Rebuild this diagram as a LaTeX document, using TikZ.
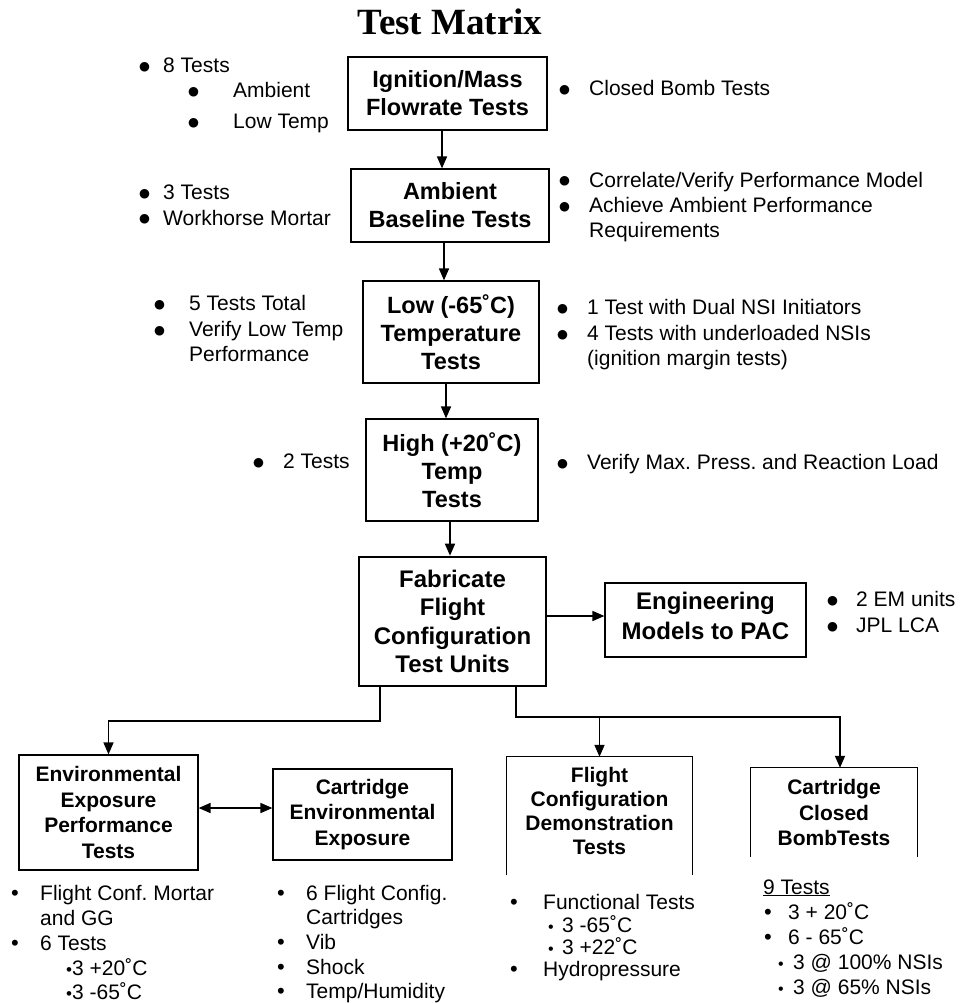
\documentclass[tikz,border=0pt]{standalone}
\usepackage{fontspec}
\setmainfont{Liberation Sans}
\newfontfamily\titlefont{Liberation Serif}
\newfontfamily\dvfont{DejaVu Sans}
\usetikzlibrary{arrows.meta}
\frenchspacing
\newcommand\bul[2]{\makebox[#1pt][l]{\fontsize{#2}{#2}\selectfont •}}
\newcommand\Bul[1]{\makebox[#1pt][l]{\raisebox{2pt}{\dvfont\fontsize{12.5}{12.5}\selectfont ●}}}
\tikzset{
  box/.style={draw, line width=1.2pt, align=center, inner sep=0pt,
    font=\fontsize{23.5}{28}\selectfont\bfseries},
  bbox/.style={box, font=\fontsize{21}{25.5}\selectfont\bfseries},
  obox/.style={align=center, inner sep=0pt, font=\fontsize{21}{25.5}\selectfont\bfseries},
  tx/.style={anchor=base west, inner sep=0pt, font=\fontsize{21}{25}\selectfont},
  arr/.style={line width=1.6pt, -{Triangle[length=12pt,width=10pt]}},
  barr/.style={line width=1.6pt, {Triangle[length=12pt,width=10pt]}-{Triangle[length=12pt,width=10pt]}},
}
\begin{document}
\begin{tikzpicture}[x=1pt,y=-1pt]
\useasboundingbox (0,0) rectangle (968,1003);
\fill[white] (0,0) rectangle (968,1003);

\node[anchor=base, inner sep=0pt, font=\titlefont\bfseries\fontsize{37}{40}\selectfont] (title) at (450,35) {Test Matrix};

% boxes
\node[box, minimum width=199pt, minimum height=73pt] (b1) at (447.5,93.5) {Ignition/Mass\\Flowrate Tests};
\node[box, minimum width=198pt, minimum height=73pt] (b2) at (450,205.5) {Ambient\\Baseline Tests};
\node[box, minimum width=176pt, minimum height=102pt] (b3) at (451,332) {Low (-65˚C)\\Temperature\\Tests};
\node[box, minimum width=172pt, minimum height=102pt] (b4) at (452,470) {High (+20˚C)\\Temp\\Tests};
\node[box, line width=2.6pt, minimum width=187pt, minimum height=129pt,
  font=\fontsize{24}{28.5}\selectfont\bfseries] (fab) at (452.5,621.5) {Fabricate\\Flight\\Configuration\\Test Units};
\node[box, minimum width=201pt, minimum height=74pt] (eng) at (705.5,620) {};
\node[obox, font=\fontsize{24}{30}\selectfont\bfseries] (engt) at (705.5,616) {Engineering\\Models to PAC};
\node[bbox, minimum width=179pt, minimum height=115pt] (env) at (108.5,812.5) {Environmental\\Exposure\\Performance\\Tests};
\node[bbox, minimum width=179pt, minimum height=91pt] (cenv) at (362.5,814.5) {Cartridge\\Environmental\\Exposure};
\node[obox, minimum width=185pt, minimum height=118pt] (fcd) at (599.5,816) {};
\node[obox, font=\fontsize{21}{24}\selectfont\bfseries] (fcdt) at (599.5,810.5) {Flight\\Configuration\\Demonstration\\Tests};
\node[obox, minimum width=166pt, minimum height=89pt] (ccb) at (834,812.5) {Cartridge\\Closed\\BombTests};
\draw[line width=1.3pt] (fcd.south west) -- (fcd.north west) -- (fcd.north east) -- (fcd.south east);
\draw[line width=1.3pt] (ccb.south west) -- (ccb.north west) -- (ccb.north east) -- (ccb.south east);

% connectors
\draw[arr] ([xshift=-5.5pt]b1.south) -- ([xshift=-5.5pt]b1.south |- b2.north);
\draw[arr] ([xshift=-6pt]b2.south) -- ([xshift=-6pt]b2.south |- b3.north);
\draw[arr] ([xshift=-5pt]b3.south) -- ([xshift=-5pt]b3.south |- b4.north);
\draw[arr] ([xshift=-2pt]b4.south) -- ([xshift=-2pt]b4.south |- fab.north);
\draw[arr] ([yshift=5.5pt]fab.east) -- ([yshift=5.5pt]fab.east -| eng.west);
\coordinate (jl) at (380,721);
\coordinate (jr) at (516,717);
\draw[arr] (fab.south -| jl) -- (jl) -| (env.north);
\draw[arr] (fab.south -| jr) -- (jr) -| ([xshift=6pt]ccb.north);
\draw[arr] (jr -| fcd.north) -- (fcd.north);
\draw[barr] ([yshift=4.5pt]env.east) -- ([yshift=4.5pt]env.east -| cenv.west);

% side lists
\node[tx] (t1) at (139,73) {\Bul{24}8 Tests};
\node[tx] (t2) at (188,98) {\Bul{45}Ambient};
\node[tx] (t3) at (188,129) {\Bul{45}Low Temp};
\node[tx] (t4) at (559,96) {\Bul{30}Closed Bomb Tests};
\node[tx] (t5) at (139,200) {\Bul{24}3 Tests};
\node[tx] (t6) at (139,225) {\Bul{24}Workhorse Mortar};
\node[tx] (t7) at (559,187) {\Bul{30}Correlate/Verify Performance Model};
\node[tx] (t8) at (559,212) {\Bul{30}Achieve Ambient Performance};
\node[tx] (t9) at (589,237) {Requirements};
\node[tx] (t10) at (154,310) {\Bul{35}5 Tests Total};
\node[tx] (t11) at (154,336) {\Bul{35}Verify Low Temp};
\node[tx] (t12) at (189,361) {Performance};
\node[tx] (t13) at (557,314) {\Bul{30}1 Test with Dual NSI Initiators};
\node[tx] (t14) at (557,340) {\Bul{30}4 Tests with underloaded NSIs};
\node[tx] (t15) at (587,365) {(ignition margin tests)};
\node[tx] (t16) at (253,468) {\Bul{30}2 Tests};
\node[tx] (t17) at (557,469) {\Bul{30}Verify Max. Press. and Reaction Load};
\node[tx] (t18) at (827,606) {\Bul{29}2 EM units};
\node[tx] (t19) at (827,632) {\Bul{29}JPL LCA};

% bottom lists
\node[tx] (t20) at (11,900) {\bul{29}{22}Flight Conf. Mortar};
\node[tx] (t21) at (40,925) {and GG};
\node[tx] (t22) at (11,950) {\bul{29}{22}6 Tests};
\node[tx] (t23) at (66,975) {{\fontsize{17}{17}\selectfont •}3 +20˚C};
\node[tx] (t24) at (66,999) {{\fontsize{17}{17}\selectfont •}3 -65˚C};
\node[tx] (t25) at (277,900) {\bul{29}{22}6 Flight Config.};
\node[tx] (t26) at (306,924) {Cartridges};
\node[tx] (t27) at (277,949) {\bul{29}{22}Vib};
\node[tx] (t28) at (277,974) {\bul{29}{22}Shock};
\node[tx] (t29) at (277,998) {\bul{29}{22}Temp/Humidity};
\node[tx] (t30) at (510,909) {\bul{33}{22}Functional Tests};
\node[tx] (t31) at (548,932) {\bul{14}{16}3 -65˚C};
\node[tx] (t32) at (548,954) {\bul{14}{16}3 +22˚C};
\node[tx] (t33) at (510,976) {\bul{33}{22}Hydropressure};
\node[tx] (t34) at (763,894) {\underline{9 Tests}};
\node[tx] (t35) at (764,919) {\bul{24}{22}3 + 20˚C};
\node[tx] (t36) at (764,944) {\bul{24}{22}6 - 65˚C};
\node[tx] (t37) at (778,969) {\bul{15}{16}3 @ 100\% NSIs};
\node[tx] (t38) at (778,994) {\bul{15}{16}3 @ 65\% NSIs};
\end{tikzpicture}
\end{document}
